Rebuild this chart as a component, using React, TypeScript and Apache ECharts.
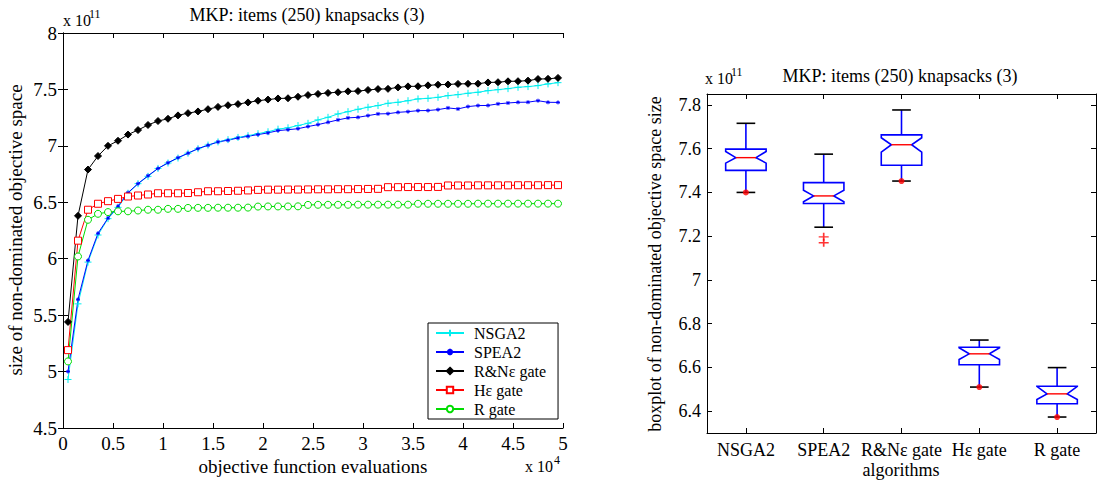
import React, { useEffect, useRef } from 'react';
import * as echarts from 'echarts';

// x positions (objective function evaluations, x 10^4)
const evaluations = [
  0.05, 0.15, 0.25, 0.35, 0.45, 0.55, 0.65, 0.75, 0.85, 0.95,
  1.05, 1.15, 1.25, 1.35, 1.45, 1.55, 1.65, 1.75, 1.85, 1.95,
  2.05, 2.15, 2.25, 2.35, 2.45, 2.55, 2.65, 2.75, 2.85, 2.95,
  3.05, 3.15, 3.25, 3.35, 3.45, 3.55, 3.65, 3.75, 3.85, 3.95,
  4.05, 4.15, 4.25, 4.35, 4.45, 4.55, 4.65, 4.75, 4.85, 4.95,
];

// size of non-dominated objective space (x 10^11)
const nsga2 = [
  4.93, 5.60, 5.97, 6.21, 6.355, 6.455, 6.58, 6.665, 6.73, 6.80,
  6.848, 6.892, 6.935, 6.975, 7.007, 7.035, 7.055, 7.075, 7.09, 7.108,
  7.125, 7.148, 7.16, 7.18, 7.20, 7.23, 7.253, 7.283, 7.303, 7.324,
  7.342, 7.357, 7.377, 7.386, 7.40, 7.416, 7.421, 7.43, 7.445, 7.454,
  7.466, 7.475, 7.489, 7.498, 7.507, 7.519, 7.525, 7.534, 7.549, 7.56,
];
const spea2 = [
  5.00, 5.64, 5.985, 6.225, 6.36, 6.465, 6.585, 6.665, 6.735, 6.80,
  6.85, 6.895, 6.935, 6.975, 7.005, 7.035, 7.05, 7.07, 7.085, 7.10,
  7.115, 7.135, 7.143, 7.152, 7.171, 7.188, 7.209, 7.23, 7.248, 7.253,
  7.268, 7.283, 7.285, 7.297, 7.303, 7.312, 7.313, 7.321, 7.336, 7.327,
  7.348, 7.357, 7.358, 7.372, 7.38, 7.386, 7.387, 7.40, 7.386, 7.385,
];
const rnGate = [
  5.44, 6.38, 6.79, 6.91, 7.00, 7.045, 7.10, 7.14, 7.185, 7.22,
  7.24, 7.27, 7.29, 7.305, 7.325, 7.345, 7.36, 7.37, 7.385, 7.40,
  7.41, 7.42, 7.422, 7.435, 7.45, 7.46, 7.469, 7.475, 7.483, 7.485,
  7.495, 7.503, 7.505, 7.518, 7.527, 7.528, 7.536, 7.542, 7.544, 7.549,
  7.55, 7.551, 7.562, 7.564, 7.572, 7.573, 7.578, 7.592, 7.594, 7.602,
];
const hGate = [
  5.19, 6.16, 6.434, 6.487, 6.51, 6.53, 6.551, 6.56, 6.569, 6.58,
  6.58, 6.58, 6.582, 6.589, 6.598, 6.598, 6.6, 6.602, 6.605, 6.61,
  6.612, 6.612, 6.613, 6.613, 6.614, 6.615, 6.615, 6.616, 6.616, 6.617,
  6.618, 6.619, 6.634, 6.634, 6.635, 6.635, 6.635, 6.636, 6.649, 6.649,
  6.649, 6.65, 6.65, 6.65, 6.65, 6.651, 6.651, 6.651, 6.652, 6.652,
];
const rGate = [
  5.09, 6.02, 6.345, 6.398, 6.413, 6.42, 6.42, 6.427, 6.434, 6.434,
  6.442, 6.442, 6.45, 6.451, 6.451, 6.452, 6.452, 6.452, 6.453, 6.462,
  6.463, 6.463, 6.463, 6.464, 6.477, 6.478, 6.478, 6.478, 6.478, 6.479,
  6.479, 6.479, 6.479, 6.479, 6.479, 6.487, 6.487, 6.487, 6.487, 6.487,
  6.487, 6.488, 6.488, 6.488, 6.488, 6.488, 6.488, 6.488, 6.488, 6.488,
];

// boxplot (x 10^11)
const algorithms = ['NSGA2', 'SPEA2', 'R&Nε gate', 'Hε gate', 'R gate'];
const whiskerLow = [7.40, 7.241, 7.452, 6.51, 6.373];
const q1 = [7.501, 7.349, 7.524, 6.612, 6.434];
const notchLow = [7.534, 7.357, 7.584, 6.636, 6.453];
const median = [7.559, 7.384, 7.618, 6.662, 6.479];
const notchHigh = [7.587, 7.41, 7.65, 6.69, 6.513];
const q3 = [7.598, 7.445, 7.663, 6.692, 6.514];
const whiskerHigh = [7.716, 7.575, 7.777, 6.725, 6.599];
const dotOutliers = [[0, 7.40], [2, 7.452], [3, 6.51], [4, 6.373]];
const plusOutliers = [[1, 7.197], [1, 7.17]];

const yTicksRight = [6.4, 6.6, 6.8, 7, 7.2, 7.4, 7.6, 7.8];

const FONT = '"Liberation Serif", "Times New Roman", serif';

export default function App() {
  const ref = useRef<HTMLDivElement>(null);
  useEffect(() => {
    if (!ref.current) return;
    const chart = echarts.init(ref.current, undefined, { renderer: 'svg' });
    const line = (name: string, data: number[], color: string, symbol: string, size: number, fill: string) => ({
      name,
      type: 'line',
      xAxisIndex: 0,
      yAxisIndex: 0,
      data: evaluations.map((x, i) => [x, data[i]]),
      symbol,
      symbolSize: size,
      lineStyle: { color, width: 1 },
      itemStyle: { color: fill, borderColor: color, borderWidth: 1 },
      emphasis: { disabled: true },
    });
    const axisCommon = {
      axisLine: { show: true, lineStyle: { color: '#000', width: 1 } },
      axisTick: { show: true, inside: true, length: 5, lineStyle: { color: '#000' } },
      splitLine: { show: false },
    };
    const txt = (text: string, x: number, y: number, size: number, align = 'center', rotation = 0) => ({
      type: 'text',
      x,
      y,
      rotation,
      style: { text, fontFamily: FONT, fontSize: size, fill: '#000', textAlign: align, textVerticalAlign: 'middle' },
    });
    chart.setOption({
      animation: false,
      backgroundColor: '#fff',
      grid: [
        { left: 63, top: 33, width: 500, height: 395 },
        { left: 707, top: 94, width: 389, height: 339 },
      ],
      xAxis: [
        {
          gridIndex: 0, type: 'value', min: 0, max: 5, interval: 0.5, position: 'bottom',
          ...axisCommon,
          axisLabel: { fontFamily: FONT, fontSize: 19, color: '#000', margin: 6 },
        },
        {
          gridIndex: 0, type: 'value', min: 0, max: 5, interval: 0.5, position: 'top',
          ...axisCommon, axisLabel: { show: false },
        },
        {
          gridIndex: 1, type: 'category', data: algorithms, position: 'bottom', boundaryGap: true,
          ...axisCommon,
          axisTick: { show: true, inside: true, length: 5, alignWithLabel: true, lineStyle: { color: '#000' } },
          axisLabel: { fontFamily: FONT, fontSize: 18, color: '#000', margin: 8, interval: 0, hideOverlap: false },
        },
        {
          gridIndex: 1, type: 'category', data: algorithms, position: 'top', boundaryGap: true,
          ...axisCommon,
          axisTick: { show: true, inside: true, length: 5, alignWithLabel: true, interval: 0, lineStyle: { color: '#000' } },
          axisLabel: { show: false, interval: 0 },
        },
      ],
      yAxis: [
        {
          gridIndex: 0, type: 'value', min: 4.5, max: 8, interval: 0.5, position: 'left',
          ...axisCommon,
          axisLabel: { fontFamily: FONT, fontSize: 19, color: '#000', margin: 6 },
        },
        {
          gridIndex: 0, type: 'value', min: 4.5, max: 8, interval: 0.5, position: 'right',
          ...axisCommon, axisLabel: { show: false },
        },
        {
          gridIndex: 1, type: 'value', min: 6.3, max: 7.85, position: 'left',
          ...axisCommon,
          axisTick: { show: true, inside: true, length: 5, customValues: yTicksRight, lineStyle: { color: '#000' } },
          axisLabel: { fontFamily: FONT, fontSize: 18, color: '#000', margin: 6, customValues: yTicksRight },
        },
        {
          gridIndex: 1, type: 'value', min: 6.3, max: 7.85, position: 'right',
          ...axisCommon,
          axisTick: { show: true, inside: true, length: 5, customValues: yTicksRight, lineStyle: { color: '#000' } },
          axisLabel: { show: false, customValues: yTicksRight },
        },
      ],
      legend: {
        data: ['NSGA2', 'SPEA2', 'R&Nε gate', 'Hε gate', 'R gate'],
        orient: 'vertical',
        left: 428,
        top: 323,
        padding: [2, 12, 2, 7],
        itemGap: 3,
        itemWidth: 28,
        itemHeight: 8,
        backgroundColor: '#fff',
        borderColor: '#000',
        borderWidth: 1,
        borderRadius: 0,
        selectedMode: false,
        textStyle: { fontFamily: FONT, fontSize: 16, color: '#000', padding: [0, 0, 0, 5] },
      },
      series: [
        line('NSGA2', nsga2, '#00eeee', 'path://M5,0V10M0,5H10', 7, '#00eeee'),
        line('SPEA2', spea2, '#0000ff', 'path://M5,0V10M0,5H10M1.5,1.5L8.5,8.5M8.5,1.5L1.5,8.5', 4, '#0000ff'),
        line('R&Nε gate', rnGate, '#000000', 'diamond', 7, '#000000'),
        line('Hε gate', hGate, '#ff0000', 'rect', 7, '#ffffff'),
        line('R gate', rGate, '#00dd00', 'circle', 7, '#ffffff'),
        {
          type: 'custom',
          xAxisIndex: 2,
          yAxisIndex: 2,
          data: algorithms.map((_, i) => [i, whiskerLow[i], q1[i], notchLow[i], median[i], notchHigh[i], q3[i], whiskerHigh[i]]),
          renderItem: (params: any, api: any) => {
            const i = api.value(0);
            const unit = api.size([1, 0])[0];
            const hw = unit * 0.26;
            const inset = unit * 0.13;
            const cap = unit * 0.12;
            const cx = api.coord([i, api.value(4)])[0];
            const y = (k: number) => api.coord([i, api.value(k)])[1];
            const yWL = y(1), yQ1 = y(2), yNL = y(3), yMed = y(4), yNH = y(5), yQ3 = y(6), yWH = y(7);
            const blue = { stroke: '#0000ff', lineWidth: 1.6, fill: 'none' };
            return {
              type: 'group',
              children: [
                { type: 'line', shape: { x1: cx, y1: yQ3, x2: cx, y2: yWH }, style: blue },
                { type: 'line', shape: { x1: cx, y1: yQ1, x2: cx, y2: yWL }, style: blue },
                { type: 'line', shape: { x1: cx - cap, y1: yWH, x2: cx + cap, y2: yWH }, style: { stroke: '#000', lineWidth: 1.6 } },
                { type: 'line', shape: { x1: cx - cap, y1: yWL, x2: cx + cap, y2: yWL }, style: { stroke: '#000', lineWidth: 1.6 } },
                {
                  type: 'polygon',
                  shape: {
                    points: [
                      [cx - hw, yQ1], [cx - hw, yNL], [cx - hw + inset, yMed], [cx - hw, yNH], [cx - hw, yQ3],
                      [cx + hw, yQ3], [cx + hw, yNH], [cx + hw - inset, yMed], [cx + hw, yNL], [cx + hw, yQ1],
                    ],
                  },
                  style: { stroke: '#0000ff', lineWidth: 1.6, fill: '#fff' },
                },
                { type: 'line', shape: { x1: cx - hw + inset, y1: yMed, x2: cx + hw - inset, y2: yMed }, style: { stroke: '#ff0000', lineWidth: 1.4 } },
              ],
            };
          },
        },
        {
          type: 'scatter',
          xAxisIndex: 2,
          yAxisIndex: 2,
          data: dotOutliers,
          symbol: 'circle',
          symbolSize: 6,
          itemStyle: { color: '#ff0000' },
          z: 5,
        },
        {
          type: 'scatter',
          xAxisIndex: 2,
          yAxisIndex: 2,
          data: plusOutliers,
          symbol: 'path://M0,4H10M5,0V8',
          symbolSize: [10, 8],
          itemStyle: { color: '#ff0000', borderColor: '#ff0000', borderWidth: 1.5 },
          z: 5,
        },
      ],
      graphic: [
        txt('MKP: items (250) knapsacks (3)', 307, 15, 18),
        txt('x 10', 63, 20, 16, 'left'),
        txt('11', 89, 14, 12, 'left'),
        txt('size of non-dominated objective space', 15, 230, 19, 'center', Math.PI / 2),
        txt('objective function evaluations', 313, 466, 19),
        txt('x 10', 525, 466, 16, 'left'),
        txt('4', 554, 460, 12, 'left'),
        txt('MKP: items (250) knapsacks (3)', 900, 76, 18),
        txt('x 10', 705, 78, 16, 'left'),
        txt('11', 731, 72, 12, 'left'),
        txt('boxplot of non-dominated objective space size', 655, 264, 18, 'center', Math.PI / 2),
        txt('algorithms', 901, 470, 18),
      ],
    });
    return () => chart.dispose();
  }, []);
  return (
    <div
      ref={ref}
      style={{ position: 'fixed', left: 0, top: 0, width: 1097, height: 480, background: '#fff' }}
    />
  );
}
